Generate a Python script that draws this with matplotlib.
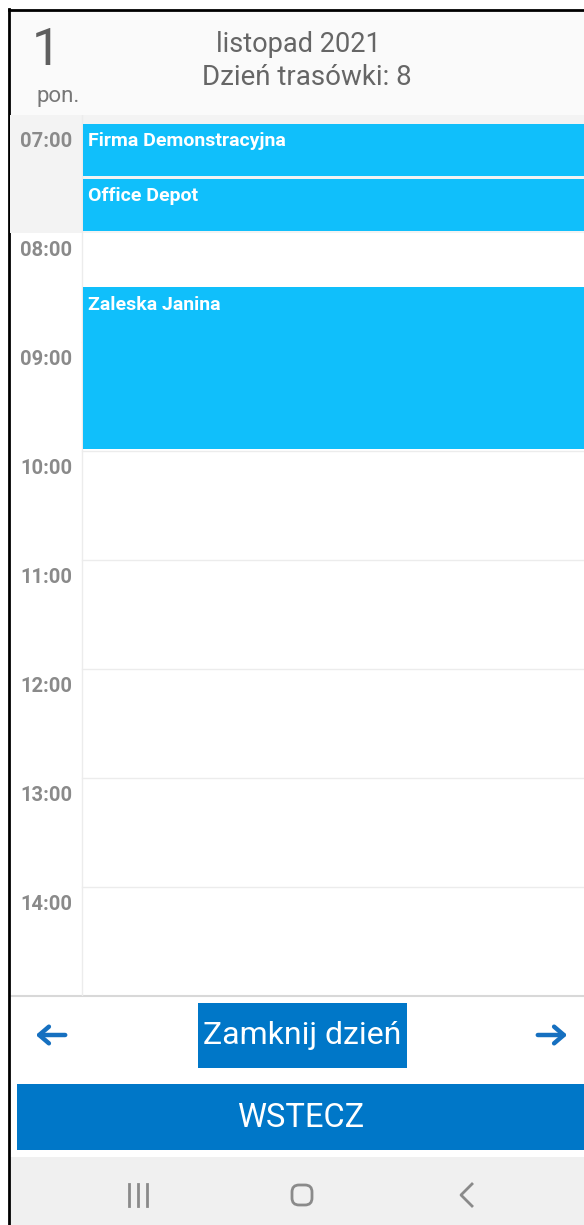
import matplotlib
matplotlib.use('Agg')
import matplotlib.pyplot as plt
from matplotlib.patches import Rectangle, FancyBboxPatch

plt.rcParams['font.family'] = ['Roboto', 'DejaVu Sans']

# DATA
day_number = '1'
day_name = 'pon.'
month_title = 'listopad 2021'
route_day = 'Dzień trasówki: 8'
hours = [7, 8, 9, 10, 11, 12, 13, 14]
hour_labels = ['07:00', '08:00', '09:00', '10:00', '11:00', '12:00', '13:00', '14:00']
event_names = ['Firma Demonstracyjna', 'Office Depot', 'Zaleska Janina']
event_start = [7.0, 7.5, 8.5]
event_end = [7.5, 8.0, 10.0]
close_label = 'Zamknij dzień'
back_label = 'WSTECZ'

# colours
EVENT = '#10bffb'
BLUE = '#0077c8'
ARROW = '#1670c0'
GREY_TXT = '#8a8a8a'

W, H = 584, 1225
fig = plt.figure(figsize=(W / 100, H / 100), dpi=100)
fig.patch.set_facecolor('white')

# background axes in pixels for the screen chrome
bg = fig.add_axes([0, 0, 1, 1])
bg.set_xlim(0, W)
bg.set_ylim(H, 0)
bg.axis('off')

# header
bg.add_patch(Rectangle((10, 10), W - 10, 105, color='#fafafa', lw=0))
bg.text(46, 65, day_number, fontsize=37, color='#5f5f5f', ha='center', va='baseline')
bg.text(58, 102, day_name, fontsize=16, color='#777777', ha='center', va='baseline')
bg.text(298, 52, month_title, fontsize=19.5, color='#666666', ha='center', va='baseline')
bg.text(307, 85, route_day, fontsize=20, color='#666666', ha='center', va='baseline')

# bottom section
bg.plot([10, W], [996, 996], color='#d8d8d8', lw=1.5)
arrow_kw = dict(arrowstyle='->,head_length=0.7,head_width=0.6', color=ARROW, lw=3.2)
bg.annotate('', xy=(33, 1035), xytext=(68, 1035), arrowprops=arrow_kw)
bg.annotate('', xy=(570, 1035), xytext=(535, 1035), arrowprops=arrow_kw)
bg.add_patch(Rectangle((198, 1003), 209, 65, color=BLUE, lw=0))
bg.text(302, 1036, close_label, fontsize=23, color='white', ha='center', va='center')
bg.add_patch(Rectangle((17, 1084), W - 17, 66, color=BLUE, lw=0))
bg.text(301, 1118, back_label, fontsize=23.5, color='white', ha='center', va='center')

# nav bar
bg.add_patch(Rectangle((10, 1157), W - 10, H - 1157, color='#f0f0f0', lw=0))
for xx in [129, 138, 147]:
    bg.plot([xx, xx], [1184, 1206], color=GREY_TXT, lw=2)
bg.add_patch(FancyBboxPatch((292, 1185), 20, 20, boxstyle='round,pad=0,rounding_size=7',
                            fill=False, ec=GREY_TXT, lw=2))
bg.plot([472, 461, 472], [1184, 1195, 1206], color=GREY_TXT, lw=2)

# frame of the screenshot
bg.plot([9, 9], [H, 9], color='black', lw=2)
bg.plot([9, W], [10, 10], color='black', lw=2)

# day grid axes (y in hours)
ax = fig.add_axes([10 / W, 1 - 996 / H, (W - 10) / W, (996 - 115) / H])
ax.set_xlim(0, W - 10)
ax.set_ylim(15.0, 7 - 9 / 109)
ax.axis('off')
ax.axhspan(6.9, 8.0, color='#f3f3f3', lw=0, zorder=0)
ax.plot([72, 72], [6.9, 15], color='#ececec', lw=1, zorder=1)
for h, lab in zip(hours, hour_labels):
    if h > 8:
        ax.plot([72, W - 10], [h, h], color='#ececec', lw=1, zorder=1)
    ax.text(10, h + 0.165, lab, fontsize=14.5, color=GREY_TXT, weight='bold', va='center', ha='left')

ax.barh(event_start, [W - 10 - 73] * len(event_start), height=[e - s - 0.02 for s, e in zip(event_start, event_end)],
        left=73, align='edge', color=EVENT, lw=0, zorder=3)
for name, s in zip(event_names, event_start):
    ax.text(78, s + 0.156, name, fontsize=14, color='white', weight='bold', va='center', ha='left', zorder=4)

fig.savefig('out.png', dpi=100)
